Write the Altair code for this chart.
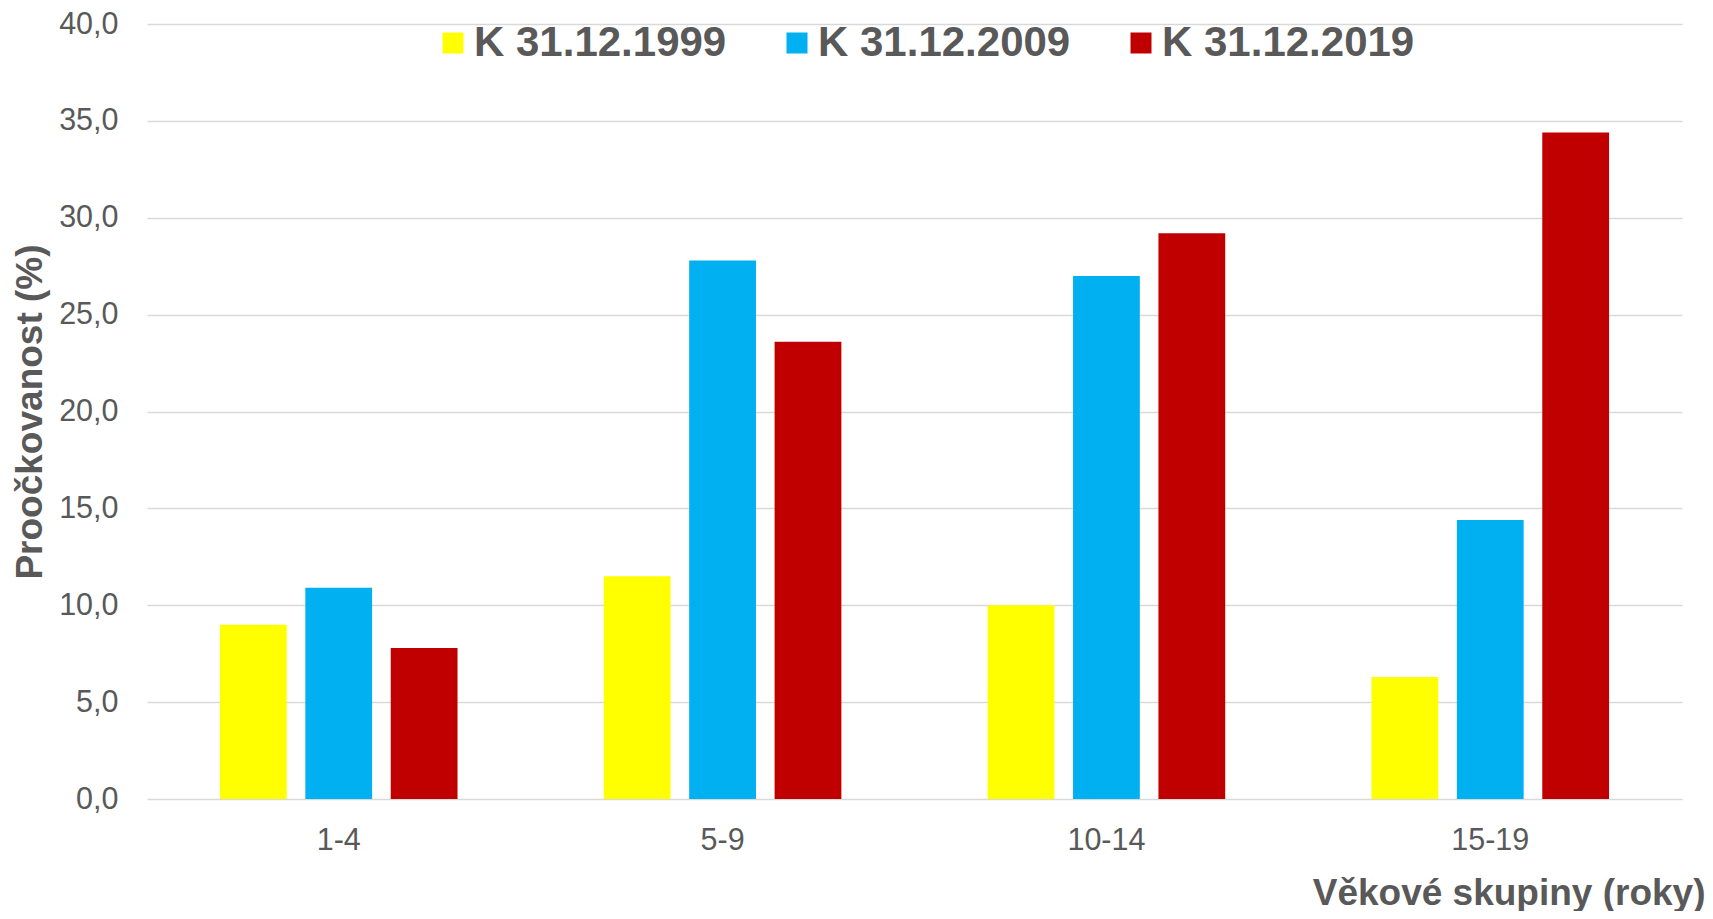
import altair as alt
import pandas as pd

groups = ["1-4", "5-9", "10-14", "15-19"]
series = ["K 31.12.1999", "K 31.12.2009", "K 31.12.2019"]
v1999 = [9.0, 11.5, 10.0, 6.3]
v2009 = [10.9, 27.8, 27.0, 14.4]
v2019 = [7.8, 23.6, 29.2, 34.4]
colors = ["#FFFF00", "#00B0F0", "#C00000"]
y_ticks = [0, 5, 10, 15, 20, 25, 30, 35, 40]

rows = []
for s, vals in zip(series, [v1999, v2009, v2019]):
    for g, v in zip(groups, vals):
        rows.append({"group": g, "series": s, "value": v})
df = pd.DataFrame(rows)

FONT = "Arial, Liberation Sans, sans-serif"
GREY = "#595959"

chart = alt.Chart(df).mark_bar().encode(
    x=alt.X("group:N", sort=groups,
            scale=alt.Scale(paddingInner=0.381, paddingOuter=0.19),
            axis=alt.Axis(title="Věkové skupiny (roky)", labelAngle=0, ticks=False,
                          domain=False, grid=False, labelFontSize=30.5, labelColor=GREY,
                          labelFont=FONT, labelPadding=26, titleFontSize=37, titleFont=FONT,
                          titleFontWeight="bold", titleColor=GREY, titleX=1558,
                          titleY=105, titleAlign="right", titleBaseline="alphabetic")),
    xOffset=alt.XOffset("series:N", sort=series,
                        scale=alt.Scale(paddingInner=0.218, paddingOuter=0)),
    y=alt.Y("value:Q", scale=alt.Scale(domain=[0, 40]),
            axis=alt.Axis(title="Proočkovanost (%)", values=y_ticks, ticks=False, domain=False,
                          labelExpr="replace(format(datum.value, '.1f'), '.', ',')",
                          labelFontSize=30.5, labelColor=GREY, labelFont=FONT, labelPadding=29,
                          gridColor="#D9D9D9", gridWidth=1.6,
                          titleFontSize=37, titleFont=FONT, titleFontWeight="bold",
                          titleColor=GREY, titleAngle=-90, titleX=-117, titleY=387.5,
                          titleAlign="center", titleBaseline="middle")),
    color=alt.Color("series:N", sort=series,
                    scale=alt.Scale(domain=series, range=colors),
                    legend=alt.Legend(title=None, orient="none", direction="horizontal",
                                      legendX=285, legendY=-2, padding=0,
                                      symbolType="square", symbolSize=441,
                                      symbolStrokeWidth=0, labelOffset=0,
                                      columnPadding=49, labelFontSize=42,
                                      labelFontWeight="bold", labelColor=GREY,
                                      labelFont=FONT, labelLimit=0)),
).properties(
    width=1535, height=775,
    background="white",
    autosize=alt.AutoSizeParams(type="none"),
    padding={"left": 139, "top": 16, "right": 23, "bottom": 112},
).configure_view(stroke=None)

chart.save("out.html", embed_options={"renderer": "svg", "actions": False})
